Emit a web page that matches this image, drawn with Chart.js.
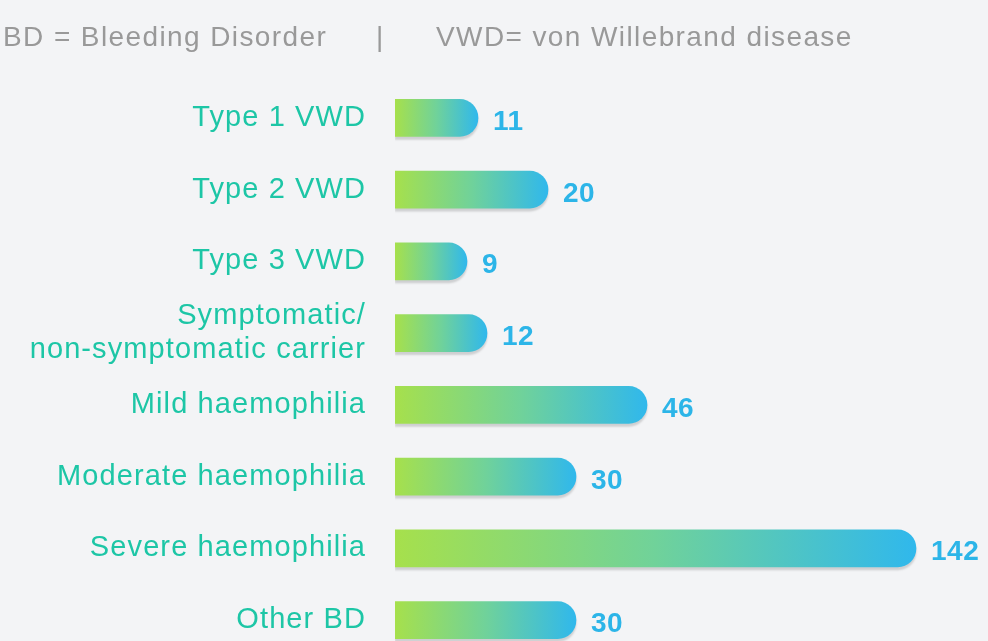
<!DOCTYPE html>
<html>
<head>
<meta charset="utf-8">
<script src="https://cdn.jsdelivr.net/npm/chart.js@4.4.0/dist/chart.umd.min.js"></script>
<style>
  html, body { margin: 0; padding: 0; background: #f3f4f6; overflow: hidden; }
  #wrap { position: relative; width: 988px; height: 656px; }
  .hdr { position: absolute; top: 23px; font-family: "Liberation Sans", Arial, sans-serif; font-size: 28px; line-height: 28px; color: #999999; letter-spacing: 1.4px; white-space: pre; z-index: 2; }
</style>
</head>
<body>
<div id="wrap">
  <span class="hdr" style="left:3px">BD = Bleeding Disorder</span>
  <span class="hdr" style="left:376px">|</span>
  <span class="hdr" style="left:436px">VWD= von Willebrand disease</span>
  <canvas id="c"></canvas>
</div>
<script>
const categories = [
  'Type 1 VWD',
  'Type 2 VWD',
  'Type 3 VWD',
  ['Symptomatic/', 'non-symptomatic carrier'],
  'Mild haemophilia',
  'Moderate haemophilia',
  'Severe haemophilia',
  'Other BD'
];
// numbers printed next to the bars
const values = [11, 20, 9, 12, 46, 30, 142, 30];
// drawn bar lengths (not proportional to the values)
const barLengths = [83, 153, 72, 92, 252, 181, 521, 181];
const xAxisMax = 593;

const labelColor = '#1dc6a6';
const valueColor = '#2cb5e8';

function barGradient(ctx) {
  const chart = ctx.chart;
  const xs = chart.scales && chart.scales.x;
  const i = ctx.dataIndex;
  if (!xs || !chart.chartArea || i === undefined) return '#6ccc9a';
  const x0 = xs.getPixelForValue(0);
  const x1 = xs.getPixelForValue(barLengths[i]);
  if (!isFinite(x0) || !isFinite(x1) || x1 <= x0) return '#6ccc9a';
  const g = chart.ctx.createLinearGradient(x0, 0, x1, 0);
  g.addColorStop(0, '#a6e04c');
  g.addColorStop(0.5, '#70d29a');
  g.addColorStop(1, '#30b8ec');
  return g;
}

const spacingPlugin = {
  id: 'spacing',
  beforeDraw(chart) { chart.ctx.letterSpacing = '1.1px'; }
};

const shadowPlugin = {
  id: 'barShadow',
  beforeDatasetsDraw(chart) {
    const c = chart.ctx;
    c.save();
    c.shadowColor = 'rgba(0,0,0,0.15)';
    c.shadowOffsetY = 3;
    c.shadowOffsetX = 0;
    c.shadowBlur = 2;
  },
  afterDatasetsDraw(chart) {
    chart.ctx.restore();
  }
};

const valuePlugin = {
  id: 'values',
  afterDraw(chart) {
    const c = chart.ctx;
    const meta = chart.getDatasetMeta(0);
    c.save();
    c.letterSpacing = '0.5px';
    c.font = 'bold 28px "Liberation Sans", Arial, sans-serif';
    c.fillStyle = valueColor;
    c.textAlign = 'left';
    c.textBaseline = 'alphabetic';
    meta.data.forEach((el, i) => {
      c.fillText(String(values[i]), el.x + 15, el.y + 12);
    });
    c.restore();
  }
};

new Chart(document.getElementById('c'), {
  type: 'bar',
  data: {
    labels: categories,
    datasets: [{
      data: barLengths,
      backgroundColor: barGradient,
      borderWidth: 0,
      borderRadius: 18.5,
      borderSkipped: 'start',
      barThickness: 37
    }]
  },
  options: {
    indexAxis: 'y',
    responsive: true,
    maintainAspectRatio: false,
    animation: false,
    events: [],
    layout: { padding: { top: 82, bottom: 0, left: 0, right: 0 } },
    plugins: { legend: { display: false }, tooltip: { enabled: false }, title: { display: false } },
    scales: {
      x: { display: false, min: 0, max: xAxisMax },
      y: {
        grid: { display: false, drawTicks: false, tickLength: 0 },
        border: { display: false },
        ticks: {
          color: labelColor,
          padding: 29,
          font: { family: '"Liberation Sans", Arial, sans-serif', size: 29, lineHeight: 1.15 }
        },
        afterFit(scale) {
          scale.width = 395;
          scale.paddingTop = 0;
          scale.paddingBottom = 0;
        }
      }
    }
  },
  plugins: [spacingPlugin, shadowPlugin, valuePlugin]
});
</script>
</body>
</html>
